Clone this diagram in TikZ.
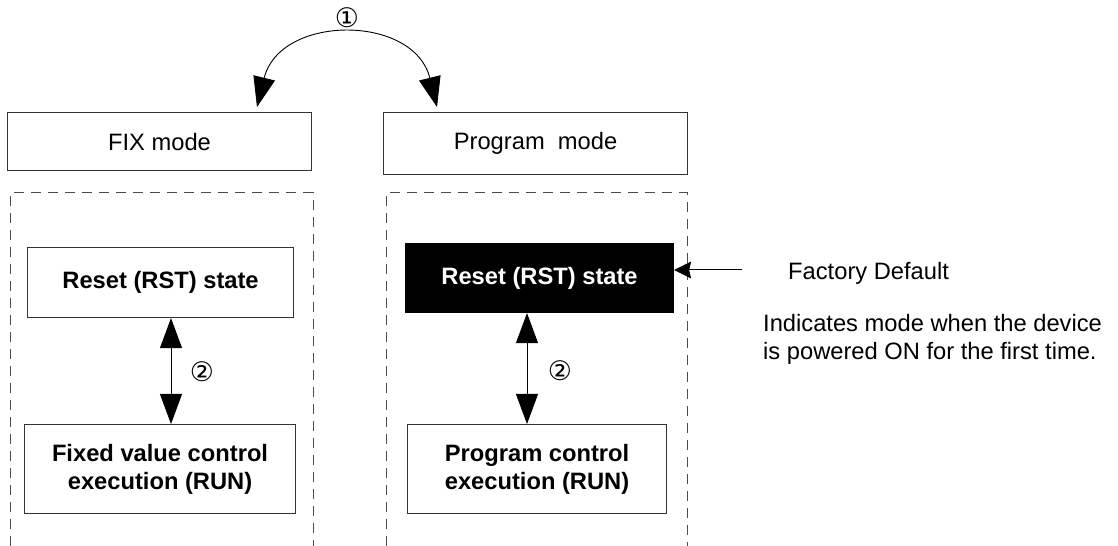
\documentclass[tikz,border=0pt]{standalone}
\usepackage{fontspec}
\setmainfont{Liberation Sans}
\newfontfamily\circfont{DejaVu Sans}
\usetikzlibrary{arrows.meta,calc}
\begin{document}
\begin{tikzpicture}[x=1bp,y=-1bp,
  box/.style={draw=black!80,line width=1.1bp,inner sep=0pt,anchor=north west,
    font=\fontsize{23.8}{28}\selectfont,align=center},
  boldbox/.style={box,font=\fontsize{23.8}{28}\selectfont\bfseries},
  blackbox/.style={boldbox,fill=black,text=white,draw=black},
  frame/.style={draw=black!70,line width=1bp,dash pattern=on 10bp off 7bp},
  bigarrow/.style={line width=0.9bp,{Triangle[width=22bp,length=30bp]}-{Triangle[width=22bp,length=30bp]}},
  smallarrow/.style={line width=1bp,-{Stealth[width=17bp,length=17bp,inset=2bp]}},
  circ/.style={font=\circfont\fontsize{27}{27}\selectfont,inner sep=0pt},
  plain/.style={font=\fontsize{23.8}{28}\selectfont,inner sep=0pt,anchor=base west}]
\useasboundingbox (0,0) rectangle (1118,546);
% mode boxes
\node[box,minimum width=304bp,minimum height=58bp] (fix) at (7,112) {FIX mode};
\node[box,minimum width=304bp,minimum height=62bp] (prog) at (383,112) {Program\ \ mode};
% dashed frames
\draw[frame] (10,546) -- (10,193) -- (313,193) -- (313,546);
\draw[frame] (386,546) -- (386,193) -- (687,193) -- (687,546);
% inner boxes
\node[boldbox,minimum width=266bp,minimum height=70bp] (rst1) at (27,247) {Reset (RST) state};
\node[boldbox,minimum width=271bp,minimum height=89bp] (run1) at (24,424) {Fixed value control\\execution (RUN)};
\node[blackbox,minimum width=268bp,minimum height=69bp] (rst2) at (405,243) {Reset (RST) state};
\node[boldbox,minimum width=259bp,minimum height=89bp] (run2) at (407,424) {Program control\\execution (RUN)};
% arc arrow 1
\coordinate (t1) at (257,107);
\coordinate (t2) at (437,107);
\draw[bigarrow] (t1) .. controls (280,14) and (414,14) .. (t2);
\node[circ] (c1) at (347,18) {①};
% vertical arrows
\coordinate (xl) at (171,0);
\coordinate (xr) at (527,0);
\draw[bigarrow] (rst1.south -| xl) -- (run1.north -| xl);
\draw[bigarrow] (rst2.south -| xr) -- (run2.north -| xr);
\node[circ] (c2a) at (202,372) {②};
\node[circ] (c2b) at (560,371) {②};
% factory default
\coordinate (fs) at (742,270);
\draw[smallarrow] (fs) -- (rst2.east |- fs);
\node[plain] (fd) at (788,280) {Factory Default};
\node[plain] (ind1) at (763,332) {Indicates mode when the device};
\node[plain] (ind2) at (763,360) {is powered ON for the first time.};
\end{tikzpicture}
\end{document}
